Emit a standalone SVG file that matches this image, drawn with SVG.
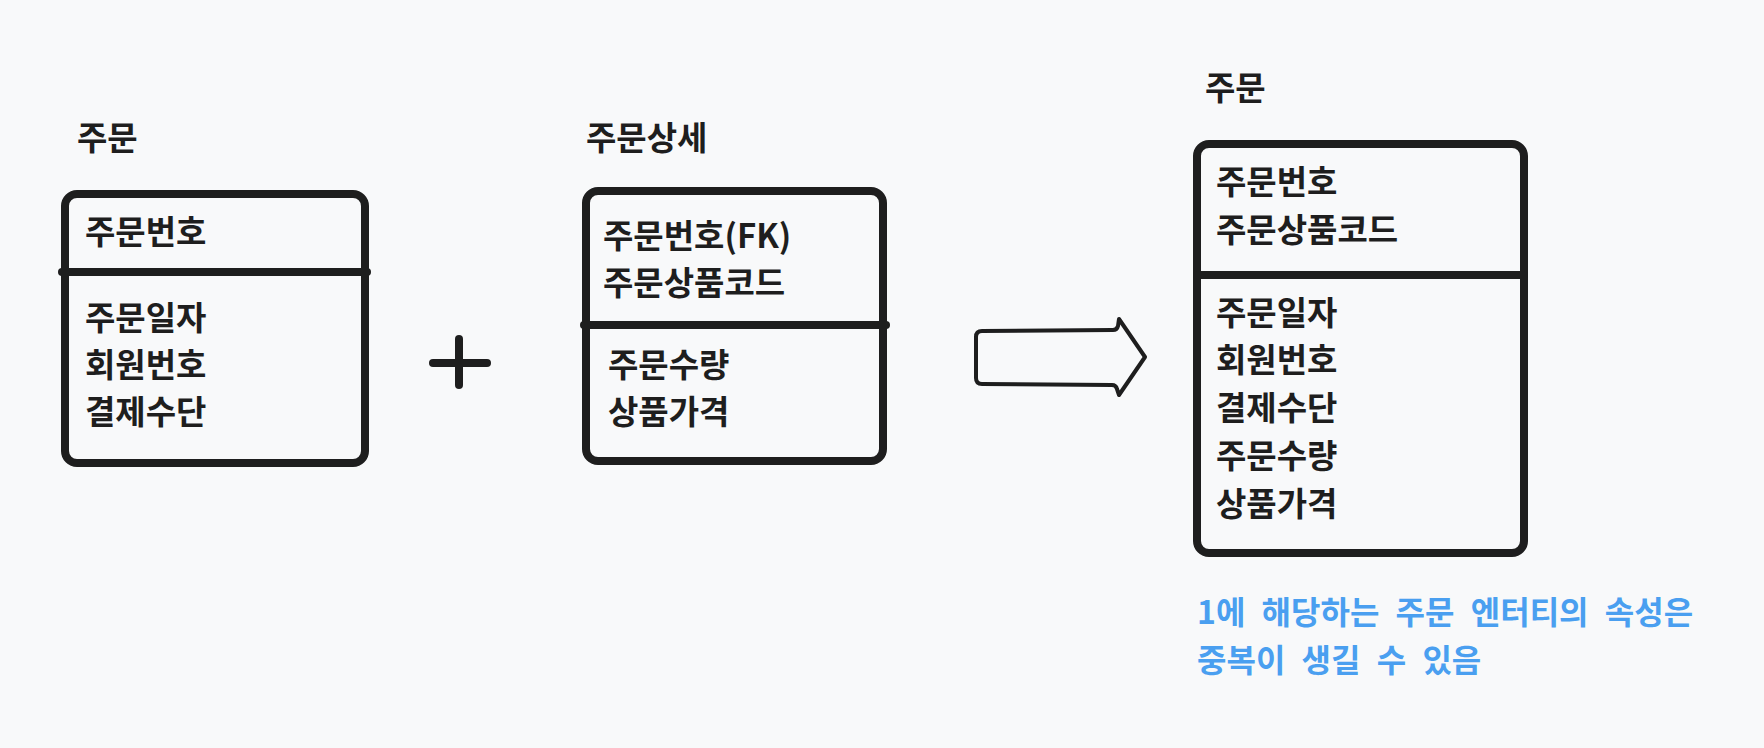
<svg xmlns="http://www.w3.org/2000/svg" width="1764" height="748" viewBox="0 0 1764 748">
<style>
.t{font-family:"Noto Sans CJK KR","Noto Sans",sans-serif;font-size:33px;font-weight:700;fill:#1e1e1e}
.b{fill:none;stroke:#1e1e1e;stroke-width:8;stroke-linejoin:round;stroke-linecap:round}
.n{font-family:"Noto Sans CJK KR","Noto Sans",sans-serif;font-size:32px;font-weight:700;fill:#4a9ff0;word-spacing:9px}
</style>
<rect width="1764" height="748" fill="#f8f9fa"/>
<g id="order">
<text class="t" x="77" y="150">주문</text>
<rect class="b" x="65" y="194" width="300" height="269" rx="12"/>
<line class="b" x1="62" y1="272" x2="367" y2="272"/>
<text class="t" x="85" y="244">주문번호</text>
<text class="t" x="85" y="330">주문일자</text>
<text class="t" x="85" y="377">회원번호</text>
<text class="t" x="85" y="424">결제수단</text>
</g>
<g id="plus">
<line class="b" x1="433" y1="363" x2="487" y2="363"/>
<line class="b" x1="459" y1="339" x2="459" y2="385"/>
</g>
<g id="order-detail">
<text class="t" x="586" y="150">주문상세</text>
<rect class="b" x="586" y="191" width="297" height="270" rx="12"/>
<line class="b" x1="584" y1="325" x2="886" y2="325"/>
<text class="t" x="603" y="248">주문번호(FK)</text>
<text class="t" x="603" y="295">주문상품코드</text>
<text class="t" x="608" y="377">주문수량</text>
<text class="t" x="608" y="424">상품가격</text>
</g>
<g id="connectors">
<path d="M982 331 L1113 330 Q1117 330 1118 326 L1119 319 L1145 357 L1119 395 L1117 389 Q1116 385 1112 385 L982 384 Q976 384 976 378 L976 337 Q976 331 982 331 Z" fill="none" stroke="#1e1e1e" stroke-width="4" stroke-linejoin="round"/>
</g>
<g id="order-merged">
<text class="t" x="1205" y="100">주문</text>
<rect class="b" x="1197" y="144" width="327" height="409" rx="12"/>
<line class="b" x1="1197" y1="275" x2="1524" y2="275"/>
<text class="t" x="1216" y="194">주문번호</text>
<text class="t" x="1216" y="242">주문상품코드</text>
<text class="t" x="1216" y="325">주문일자</text>
<text class="t" x="1216" y="372">회원번호</text>
<text class="t" x="1216" y="420">결제수단</text>
<text class="t" x="1216" y="468">주문수량</text>
<text class="t" x="1216" y="516">상품가격</text>
</g>
<g id="note">
<text class="n" x="1197" y="624">1에 해당하는 주문 엔터티의 속성은</text>
<text class="n" x="1197" y="672">중복이 생길 수 있음</text>
</g>
</svg>
